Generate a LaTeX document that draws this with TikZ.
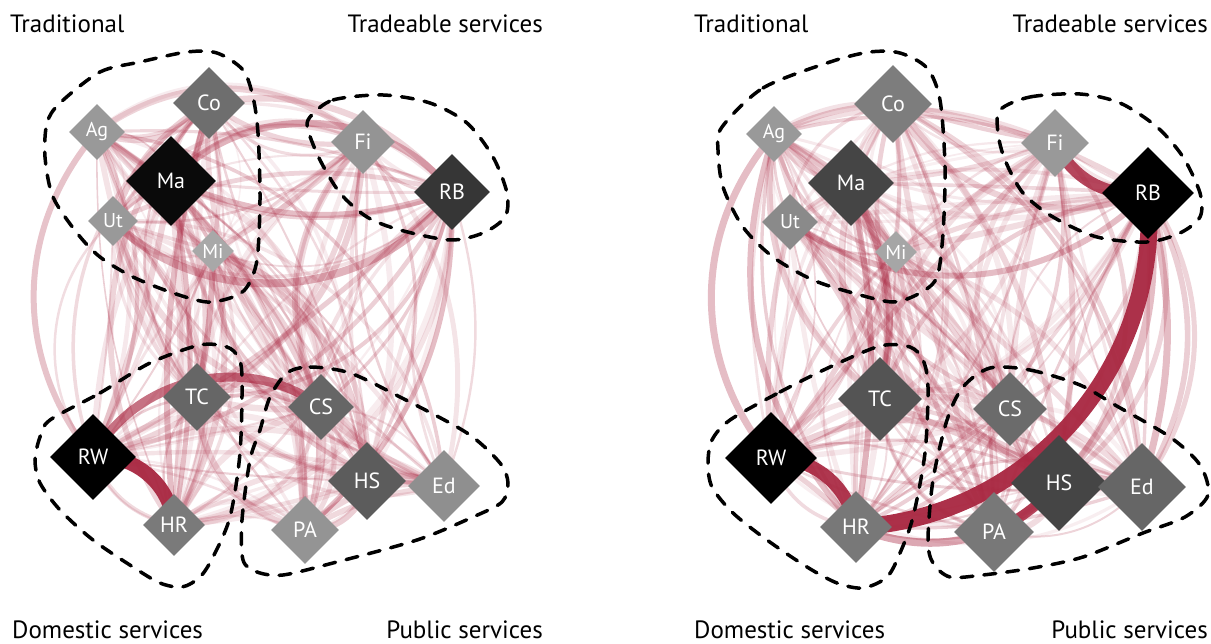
\documentclass[tikz,border=0pt]{standalone}
\usepackage{fontspec}
\setmainfont{PT Sans}
\usetikzlibrary{shapes.geometric}
\pgfdeclarelayer{edges}
\pgfdeclarelayer{blobs}
\pgfsetlayers{edges,blobs,main}
\definecolor{edgecol}{RGB}{168,38,64}
\tikzset{
  dia/.style={diamond, aspect=1, inner sep=0pt, minimum width=#1, minimum height=#1,
    text=white, font=\fontsize{22}{22}\selectfont},
  sdia/.style={dia=#1, font=\fontsize{20}{20}\selectfont},
  blob/.style={draw=black, line width=3.5pt, line cap=round, dash pattern=on 12pt off 11pt},
  title/.style={font=\fontsize{25}{25}\selectfont, inner sep=0pt},
  faint/.style={draw=edgecol},
  strong/.style={draw=edgecol}
}
\begin{document}
\begin{tikzpicture}[x=1pt,y=-1pt]
\path[use as bounding box] (0,0) rectangle (1211,644);

% ---------- titles ----------
\node[title, anchor=base west] (tL1) at (10,33) {Traditional};
\node[title, anchor=base east] (tL2) at (543,33) {Tradeable services};
\node[title, anchor=base west] (tL3) at (12,638) {Domestic services};
\node[title, anchor=base east] (tL4) at (543,638) {Public services};
\node[title, anchor=base west] (tR1) at (694,33) {Traditional};
\node[title, anchor=base east] (tR2) at (1208,33) {Tradeable services};
\node[title, anchor=base west] (tR3) at (694,638) {Domestic services};
\node[title, anchor=base east] (tR4) at (1208,638) {Public services};

% ---------- left panel nodes ----------
\node[sdia=56, fill=black!40] (LAg) at (97,132) {Ag};
\node[dia=72, fill=black!57] (LCo) at (209,103) {Co};
\node[dia=90, fill=black!96] (LMa) at (171,181) {Ma};
\node[sdia=50, fill=black!40] (LUt) at (113,221) {Ut};
\node[sdia=42, fill=black!34] (LMi) at (213,251) {Mi};
\node[dia=64, fill=black!42] (LFi) at (363,142) {Fi};
\node[dia=76, fill=black!79] (LRB) at (452,192) {RB};
\node[dia=68, fill=black!60] (LTC) at (197,397) {TC};
\node[dia=86, fill=black] (LRW) at (93,457) {RW};
\node[dia=62, fill=black!52] (LHR) at (174,525) {HR};
\node[dia=66, fill=black!60] (LCS) at (321,407) {CS};
\node[dia=78, fill=black!64] (LHS) at (367,481) {HS};
\node[dia=72, fill=black!44] (LEd) at (444,486) {Ed};
\node[dia=68, fill=black!42] (LPA) at (305,530) {PA};

% ---------- right panel nodes ----------
\node[sdia=56, fill=black!40] (RAg) at (774,134) {Ag};
\node[dia=78, fill=black!51] (RCo) at (893,104) {Co};
\node[dia=86, fill=black!73] (RMa) at (851,183) {Ma};
\node[sdia=56, fill=black!46] (RUt) at (790,222) {Ut};
\node[sdia=42, fill=black!35] (RMi) at (896,252) {Mi};
\node[dia=68, fill=black!40] (RFi) at (1055,143) {Fi};
\node[dia=92, fill=black] (RRB) at (1148,193) {RB};
\node[dia=84, fill=black!67] (RTC) at (880,399) {TC};
\node[dia=92, fill=black] (RRW) at (771,458) {RW};
\node[dia=72, fill=black!53] (RHR) at (856,527) {HR};
\node[dia=74, fill=black!58] (RCS) at (1010,409) {CS};
\node[dia=96, fill=black!73] (RHS) at (1059,483) {HS};
\node[dia=88, fill=black!60] (REd) at (1142,487) {Ed};
\node[dia=80, fill=black!53] (RPA) at (994,532) {PA};

% ---------- faint edges ----------
\pgfmathsetseed{12}
\begin{pgfonlayer}{edges}
\foreach \p in {L,R}{
  \foreach \a [count=\i] in {Ag,Co,Ma,Ut,Mi,Fi,RB,TC,RW,HR,CS,HS,Ed,PA}{
    \foreach \b [count=\j] in {Ag,Co,Ma,Ut,Mi,Fi,RB,TC,RW,HR,CS,HS,Ed,PA}{
      \ifnum\j=\i\relax\else
        \pgfmathsetmacro\myb{rand*45}
        \pgfmathsetmacro\myw{1.5+5*rnd}
        \pgfmathsetmacro\myo{0.07+0.16*rnd}
        \draw[faint, line width=\myw pt, opacity=\myo] (\p\a.center) to[bend left=\myb] (\p\b.center);
      \fi
    }
  }
}
% stronger left edges
\draw[strong, line width=7pt, opacity=0.35] (LMa.center) to[bend left=50] (LRB.center);
\draw[strong, line width=8pt, opacity=0.35] (LUt.center) to[bend right=50] (LRB.center);
\draw[strong, line width=6pt, opacity=0.3] (LMa.center) to[bend right=20] (LRB.center);
\draw[strong, line width=6pt, opacity=0.28] (LAg.center) to[bend right=40] (LRW.center);
\draw[strong, line width=6pt, opacity=0.3] (LCo.center) to[bend right=10] (LHR.center);
\draw[strong, line width=6pt, opacity=0.35] (LMi.center) to[bend left=5] (LTC.center);
\draw[strong, line width=5pt, opacity=0.3] (LMa.center) to[bend left=10] (LHR.center);
\draw[strong, line width=5pt, opacity=0.3] (LRB.center) to[bend left=25] (LPA.center);
\draw[strong, line width=9pt, opacity=0.65] (LRW.center) to[bend left=50] (LCS.center);
\draw[strong, line width=14pt, opacity=0.95] (LRW.center) to[bend left=45] (LHR.center);
% stronger right edges
\draw[strong, line width=7pt, opacity=0.3] (RAg.center) to[bend right=40] (RRW.center);
\draw[strong, line width=6pt, opacity=0.3] (RAg.center) to[bend right=30] (RHR.center);
\draw[strong, line width=7pt, opacity=0.4] (RMa.center) to[bend left=20] (RTC.center);
\draw[strong, line width=6pt, opacity=0.35] (RMa.center) to[bend left=10] (RHR.center);
\draw[strong, line width=6pt, opacity=0.3] (RUt.center) to[bend right=40] (RRB.center);
\draw[strong, line width=8pt, opacity=0.3] (RRB.center) to[bend left=25] (RHS.center);
\draw[strong, line width=7pt, opacity=0.3] (RRB.center) to[bend left=15] (REd.center);
\draw[strong, line width=5pt, opacity=0.2] (RRB.center) to[bend left=35] (REd.center);
\draw[strong, line width=8pt, opacity=0.4] (RHR.center) to[bend right=35] (RHS.center);
\draw[strong, line width=10pt, opacity=0.85] (RPA.center) to[bend right=10] (RHS.center);
\draw[strong, line width=12pt, opacity=0.85] (RFi.center) to[bend right=35] (RRB.center);
\draw[strong, line width=13pt, opacity=0.92] (RRW.center) to[bend left=40] (RHR.center);
\draw[strong, line width=17pt, opacity=0.95] (RRB.center) to[bend left=46] (RHR.center);
\end{pgfonlayer}

% ---------- group outlines ----------
\begin{pgfonlayer}{blobs}
\draw[blob] plot[smooth cycle] coordinates {(60,103) (100,72) (140,62) (187,52) (217,53) (243,70) (253,97) (258,133) (260,200) (257,260) (247,287) (233,297) (207,302) (173,293) (133,277) (100,257) (77,233) (53,197) (45,157) (47,123)};
\draw[blob] plot[smooth cycle] coordinates {(310,117) (333,100) (383,95) (430,103) (467,123) (493,157) (507,193) (505,217) (483,233) (450,240) (400,230) (367,217) (340,193) (320,160) (308,130)};
\draw[blob] plot[smooth cycle] coordinates {(50,420) (100,393) (150,363) (200,345) (227,347) (238,357) (242,377) (240,453) (230,517) (213,557) (200,577) (182,587) (160,583) (133,567) (93,540) (60,510) (40,483) (35,460) (40,437)};
\draw[blob] plot[smooth cycle] coordinates {(287,373) (310,367) (350,373) (400,397) (467,433) (500,463) (508,483) (502,502) (473,517) (417,540) (333,563) (283,575) (257,572) (243,560) (242,520) (250,460) (260,430) (270,397)};

\draw[blob] plot[smooth cycle] coordinates {(722,127) (763,88) (830,62) (870,52) (900,53) (927,68) (940,100) (945,167) (943,233) (937,277) (920,293) (893,302) (853,293) (813,280) (773,257) (743,227) (723,187) (718,150)};
\draw[blob] plot[smooth cycle] coordinates {(1000,110) (1030,97) (1080,94) (1120,103) (1157,127) (1183,157) (1200,193) (1200,217) (1180,233) (1147,242) (1097,237) (1053,217) (1023,193) (1005,160) (998,133)};
\draw[blob] plot[smooth cycle] coordinates {(730,420) (780,392) (830,367) (880,346) (910,347) (923,360) (928,387) (925,453) (913,517) (900,553) (887,577) (863,588) (837,583) (807,567) (767,540) (733,513) (712,487) (708,463) (712,440)};
\draw[blob] plot[smooth cycle] coordinates {(990,368) (1030,370) (1080,385) (1115,405) (1170,437) (1200,465) (1208,495) (1185,517) (1143,533) (1083,557) (1033,568) (983,575) (950,577) (933,563) (928,540) (933,480) (947,420) (963,387)};
\end{pgfonlayer}
\end{tikzpicture}
\end{document}
